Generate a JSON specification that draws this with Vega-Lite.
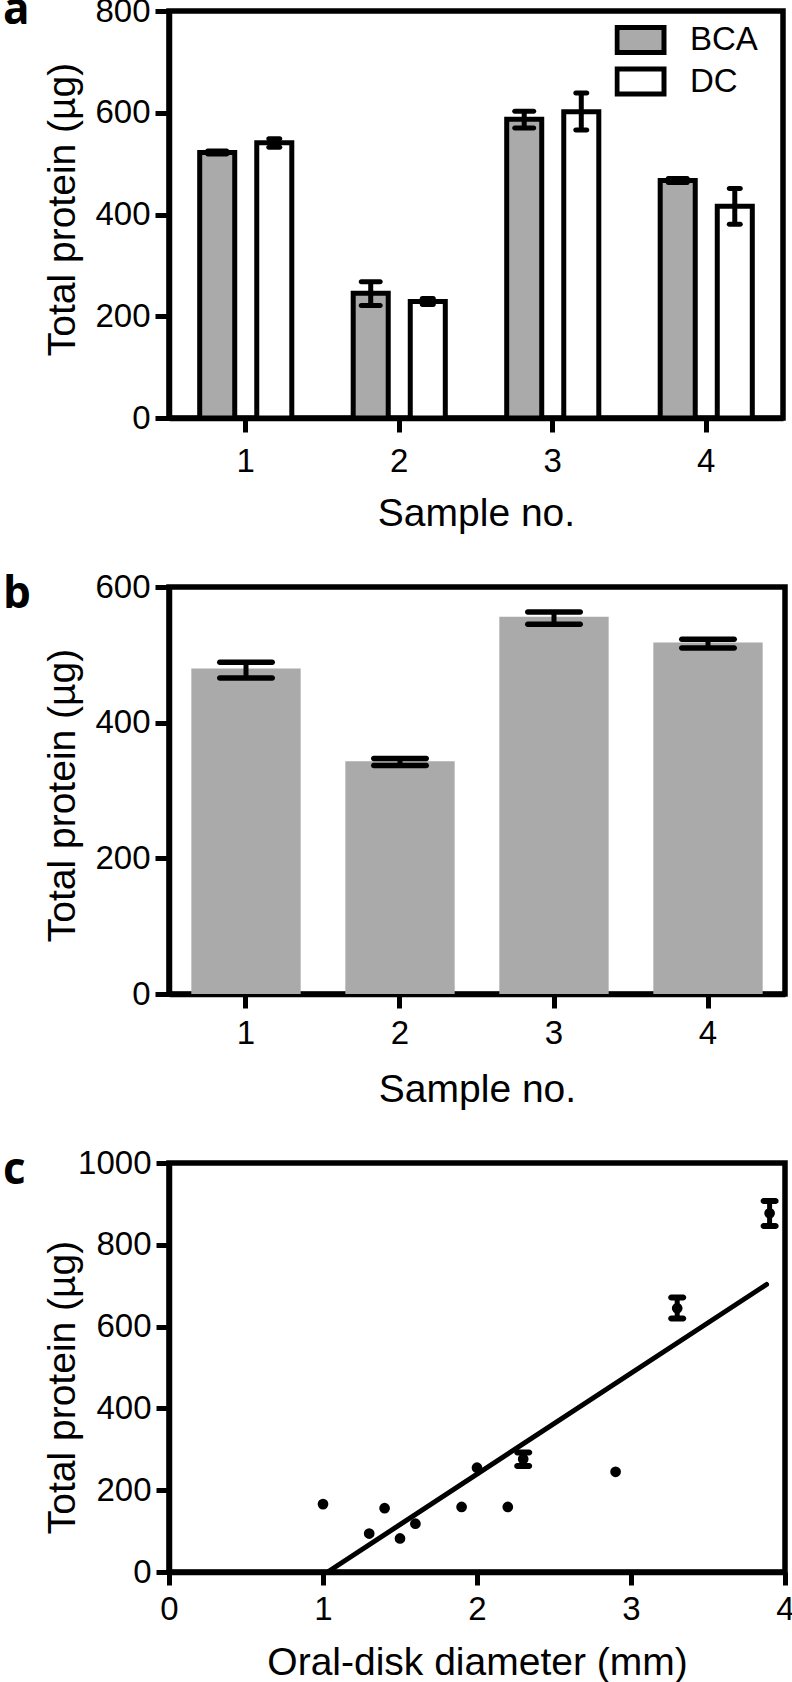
{
  "$schema": "https://vega.github.io/schema/vega-lite/v6.json",
  "background": "white",
  "padding": {"left": 0, "top": -14, "right": 0, "bottom": 0},
  "bounds": "flush",
  "spacing": 169,
  "datasets": {
    "a": [
      {"sample": "1", "method": "BCA", "protein": 522, "lo": 519, "hi": 525},
      {"sample": "1", "method": "DC", "protein": 541, "lo": 532, "hi": 549},
      {"sample": "2", "method": "BCA", "protein": 245, "lo": 221, "hi": 268},
      {"sample": "2", "method": "DC", "protein": 229, "lo": 223, "hi": 235},
      {"sample": "3", "method": "BCA", "protein": 587, "lo": 570, "hi": 603},
      {"sample": "3", "method": "DC", "protein": 602, "lo": 566, "hi": 639},
      {"sample": "4", "method": "BCA", "protein": 467, "lo": 463, "hi": 471},
      {"sample": "4", "method": "DC", "protein": 416, "lo": 381, "hi": 451}
    ],
    "b": [
      {"sample": "1", "protein": 480, "lo": 466, "hi": 489},
      {"sample": "2", "protein": 343, "lo": 337, "hi": 347},
      {"sample": "3", "protein": 556, "lo": 545, "hi": 563},
      {"sample": "4", "protein": 518, "lo": 510, "hi": 523}
    ],
    "c": [
      {"diameter": 1.0, "protein": 166},
      {"diameter": 1.3, "protein": 94},
      {"diameter": 1.4, "protein": 156},
      {"diameter": 1.5, "protein": 82},
      {"diameter": 1.6, "protein": 118},
      {"diameter": 1.9, "protein": 159},
      {"diameter": 2.0, "protein": 255},
      {"diameter": 2.2, "protein": 159},
      {"diameter": 2.3, "protein": 276, "lo": 259, "hi": 292},
      {"diameter": 2.9, "protein": 245},
      {"diameter": 3.3, "protein": 645, "lo": 620, "hi": 671},
      {"diameter": 3.9, "protein": 877, "lo": 846, "hi": 907}
    ],
    "fit": [
      {"diameter": 1.03, "protein": 0},
      {"diameter": 3.88, "protein": 703}
    ]
  },
  "vconcat": [
    {
      "width": 614,
      "height": 407,
      "title": {"text": "a", "anchor": "start", "frame": "group", "orient": "top", "offset": -73, "dx": -166, "baseline": "alphabetic", "fontSize": 44, "fontWeight": "bold", "font": "Open Sans", "color": "black"},
      "data": {"name": "a"},
      "encoding": {
        "x": {"field": "sample", "type": "nominal", "scale": {"paddingInner": 0.4, "paddingOuter": 0.2},
              "axis": {"title": "Sample no.", "labelAngle": 0, "labelPadding": 13.6, "titleY": 107, "titleBaseline": "alphabetic"}},
        "xOffset": {"field": "method", "type": "nominal", "scale": {"paddingInner": 0.386, "paddingOuter": 0}}
      },
      "layer": [
        {
          "mark": {"type": "bar", "stroke": "black", "strokeWidth": 5},
          "encoding": {
            "y": {"field": "protein", "type": "quantitative", "title": "Total protein (µg)", "scale": {"domain": [0, 800], "nice": false},
                  "axis": {"values": [0, 200, 400, 600, 800], "titleX": -95, "titleY": 198, "titleBaseline": "alphabetic", "titleAlign": "center"}},
            "fill": {"field": "method", "type": "nominal", "scale": {"domain": ["BCA", "DC"], "range": ["#aaaaaa", "#ffffff"]},
                     "legend": {"title": null, "orient": "none", "legendX": 445.5, "legendY": 12, "padding": 0,
                                "symbolType": "M-1,-0.532H1V0.532H-1Z", "symbolSize": 2209, "symbolStrokeColor": "black", "symbolStrokeWidth": 5, "symbolOpacity": 1,
                                "clipHeight": 34,
                                "labelFont": "Liberation Sans", "labelFontSize": 33, "labelColor": "black", "labelOffset": 23.5, "rowPadding": 7.5}}
          }
        },
        {
          "mark": {"type": "rule", "color": "black", "strokeWidth": 5},
          "encoding": {
            "y": {"field": "lo", "type": "quantitative", "title": "Total protein (µg)"},
            "y2": {"field": "hi"}
          }
        },
        {
          "transform": [{"filter": "datum.method === 'BCA'"}],
          "mark": {"type": "tick", "color": "black", "thickness": 5, "size": 24, "cornerRadius": 2.5, "orient": "horizontal", "opacity": 1},
          "encoding": {"y": {"field": "lo", "type": "quantitative", "title": "Total protein (µg)"}}
        },
        {
          "transform": [{"filter": "datum.method === 'BCA'"}],
          "mark": {"type": "tick", "color": "black", "thickness": 5, "size": 24, "cornerRadius": 2.5, "orient": "horizontal", "opacity": 1},
          "encoding": {"y": {"field": "hi", "type": "quantitative", "title": "Total protein (µg)"}}
        },
        {
          "transform": [{"filter": "datum.method === 'DC'"}],
          "mark": {"type": "tick", "color": "black", "thickness": 5, "size": 16, "cornerRadius": 2.5, "orient": "horizontal", "opacity": 1},
          "encoding": {"y": {"field": "lo", "type": "quantitative", "title": "Total protein (µg)"}}
        },
        {
          "transform": [{"filter": "datum.method === 'DC'"}],
          "mark": {"type": "tick", "color": "black", "thickness": 5, "size": 16, "cornerRadius": 2.5, "orient": "horizontal", "opacity": 1},
          "encoding": {"y": {"field": "hi", "type": "quantitative", "title": "Total protein (µg)"}}
        }
      ]
    },
    {
      "width": 616,
      "height": 407,
      "title": {"text": "b", "anchor": "start", "frame": "group", "orient": "top", "offset": -81, "dx": -166, "baseline": "alphabetic", "fontSize": 44, "fontWeight": "bold", "font": "Open Sans", "color": "black"},
      "data": {"name": "b"},
      "encoding": {
        "x": {"field": "sample", "type": "nominal", "scale": {"paddingInner": 0.29, "paddingOuter": 0.145},
              "axis": {"title": "Sample no.", "labelAngle": 0, "labelPadding": 9, "titleY": 107, "titleBaseline": "alphabetic"}}
      },
      "layer": [
        {
          "mark": {"type": "bar", "color": "#aaaaaa"},
          "encoding": {
            "y": {"field": "protein", "type": "quantitative", "title": "Total protein (µg)", "scale": {"domain": [0, 600], "nice": false},
                  "axis": {"values": [0, 200, 400, 600], "titleX": -95, "titleY": 208, "titleBaseline": "alphabetic", "titleAlign": "center"}}
          }
        },
        {
          "mark": {"type": "rule", "color": "black", "strokeWidth": 5},
          "encoding": {
            "y": {"field": "lo", "type": "quantitative", "title": "Total protein (µg)"},
            "y2": {"field": "hi"}
          }
        },
        {
          "mark": {"type": "tick", "color": "black", "thickness": 5.5, "size": 58, "cornerRadius": 2.75, "orient": "horizontal", "opacity": 1},
          "encoding": {"y": {"field": "lo", "type": "quantitative", "title": "Total protein (µg)"}}
        },
        {
          "mark": {"type": "tick", "color": "black", "thickness": 5.5, "size": 58, "cornerRadius": 2.75, "orient": "horizontal", "opacity": 1},
          "encoding": {"y": {"field": "hi", "type": "quantitative", "title": "Total protein (µg)"}}
        }
      ]
    },
    {
      "width": 616,
      "height": 409,
      "title": {"text": "c", "anchor": "start", "frame": "group", "orient": "top", "offset": -80.5, "dx": -166, "baseline": "alphabetic", "fontSize": 44, "fontWeight": "bold", "font": "Open Sans", "color": "black"},
      "layer": [
        {
          "data": {"name": "fit"},
          "mark": {"type": "line", "color": "black", "strokeWidth": 5, "strokeCap": "round"},
          "encoding": {
            "x": {"field": "diameter", "type": "quantitative", "title": "Oral-disk diameter (mm)", "scale": {"domain": [0, 4], "nice": false},
                  "axis": {"values": [0, 1, 2, 3, 4], "format": "d", "tickSize": 13, "labelPadding": 8.6, "titleY": 102, "titleBaseline": "alphabetic"}},
            "y": {"field": "protein", "type": "quantitative", "title": "Total protein (µg)", "scale": {"domain": [0, 1000], "nice": false},
                  "axis": {"values": [0, 200, 400, 600, 800, 1000], "format": "d", "tickSize": 13, "titleX": -95, "titleY": 224, "titleBaseline": "alphabetic", "titleAlign": "center"}}
          }
        },
        {
          "data": {"name": "c"},
          "mark": {"type": "circle", "color": "black", "size": 115, "opacity": 1},
          "encoding": {
            "x": {"field": "diameter", "type": "quantitative", "title": "Oral-disk diameter (mm)"},
            "y": {"field": "protein", "type": "quantitative", "title": "Total protein (µg)"}
          }
        },
        {
          "data": {"name": "c"},
          "transform": [{"filter": "isValid(datum.lo)"}],
          "mark": {"type": "rule", "color": "black", "strokeWidth": 5},
          "encoding": {
            "x": {"field": "diameter", "type": "quantitative", "title": "Oral-disk diameter (mm)"},
            "y": {"field": "lo", "type": "quantitative", "title": "Total protein (µg)"},
            "y2": {"field": "hi"}
          }
        },
        {
          "data": {"name": "c"},
          "transform": [{"filter": "isValid(datum.lo)"}],
          "mark": {"type": "tick", "color": "black", "thickness": 6, "size": 18, "cornerRadius": 3, "orient": "horizontal", "opacity": 1},
          "encoding": {
            "x": {"field": "diameter", "type": "quantitative", "title": "Oral-disk diameter (mm)"},
            "y": {"field": "lo", "type": "quantitative", "title": "Total protein (µg)"}
          }
        },
        {
          "data": {"name": "c"},
          "transform": [{"filter": "isValid(datum.hi)"}],
          "mark": {"type": "tick", "color": "black", "thickness": 6, "size": 18, "cornerRadius": 3, "orient": "horizontal", "opacity": 1},
          "encoding": {
            "x": {"field": "diameter", "type": "quantitative", "title": "Oral-disk diameter (mm)"},
            "y": {"field": "hi", "type": "quantitative", "title": "Total protein (µg)"}
          }
        }
      ]
    }
  ],
  "config": {
    "font": "Liberation Sans",
    "view": {"stroke": "black", "strokeWidth": 5.5},
    "axis": {
      "grid": false,
      "domainColor": "black",
      "domainWidth": 5.5,
      "tickColor": "black",
      "tickWidth": 5,
      "tickSize": 14,
      "labelFont": "Liberation Sans",
      "labelFontSize": 33,
      "labelColor": "black",
      "labelPadding": 5,
      "labelFlush": false,
      "labelOverlap": false,
      "labelBound": false,
      "titleFont": "Liberation Sans",
      "titleFontSize": 39,
      "titleFontWeight": "normal",
      "titleColor": "black"
    }
  }
}
